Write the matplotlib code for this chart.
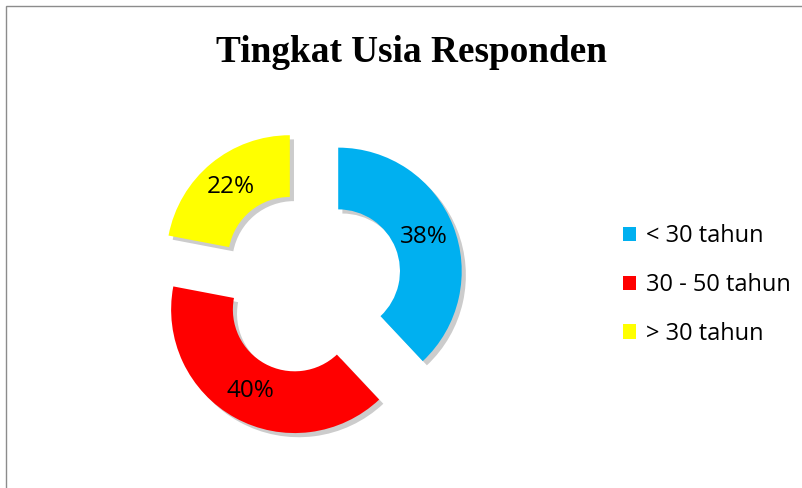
import matplotlib
matplotlib.use("Agg")
import matplotlib.pyplot as plt
import matplotlib.patheffects as pe
from matplotlib.patches import Rectangle, Patch

categories = ['< 30 tahun', '30 - 50 tahun', '> 30 tahun']
values = [38, 40, 22]
colors = ['#00b0f0', '#ff0000', '#ffff00']
title = 'Tingkat Usia Responden'

W, H = 803, 488
fig = plt.figure(figsize=(W / 100, H / 100), dpi=100)

# donut: center ~(309.5, 282.5) px, outer radius ~123.5 px
R = 123.5
L = 1.4
size = 2 * L * R
cx, cy = 309.5, 282.5
ax = fig.add_axes([(cx - size / 2) / W, (H - cy - size / 2) / H, size / W, size / H])

wedges, texts, autotexts = ax.pie(
    values, colors=colors, startangle=90, counterclock=False,
    explode=[0.25] * len(values), radius=1,
    wedgeprops=dict(width=0.5, linewidth=0),
    autopct='%1.0f%%', pctdistance=0.75,
    textprops=dict(fontsize=17.5, family='Open Sans', color='black'),
)
for w in wedges:
    w.set_path_effects([pe.SimplePatchShadow(offset=(3, -3), shadow_rgbFace='black', alpha=0.2),
                        pe.Normal()])
ax.set_xlim(-L, L)
ax.set_ylim(-L, L)
ax.axis('off')

fig.text(412 / W, 1 - 62 / H, title, ha='center', va='baseline',
         family='Liberation Serif', fontweight='bold', fontsize=26.8)

handles = [Patch(facecolor=c, edgecolor='none') for c in colors]
fig.legend(handles, categories, loc='center left', bbox_to_anchor=(616 / W, 1 - 285 / H),
           frameon=False, prop=dict(family='Open Sans', size=17),
           handlelength=0.55, handleheight=0.55, handletextpad=0.4, labelspacing=1.05,
           borderpad=0.3, borderaxespad=0)

fig.add_artist(Rectangle((6.5 / W, -0.1), 1.2, 1.1 - 6.5 / H, transform=fig.transFigure,
                         fill=False, edgecolor='#8c8c8c', linewidth=1))

fig.savefig('out.png', dpi=100, facecolor='white')
